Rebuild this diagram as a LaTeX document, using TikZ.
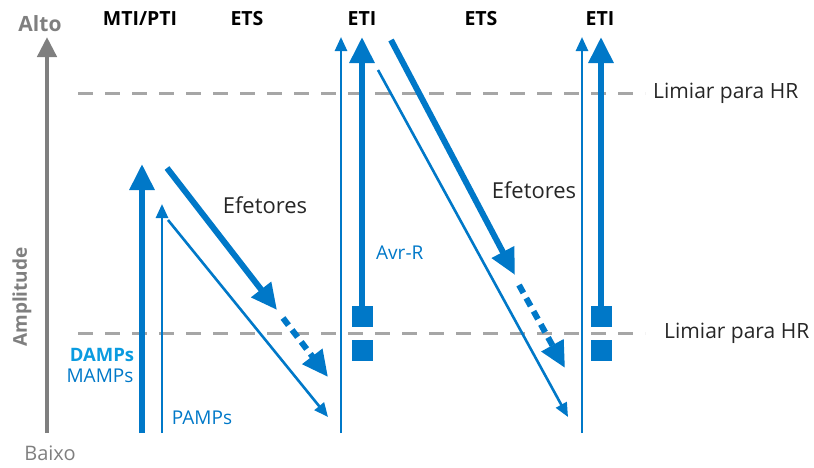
\documentclass[tikz,border=0pt]{standalone}
\usepackage{fontspec}
\setmainfont{Open Sans}
\usetikzlibrary{arrows.meta}
\definecolor{ablue}{HTML}{0078C8}
\definecolor{lblue}{HTML}{0A9BE0}
\definecolor{axgray}{HTML}{7F7F7F}
\definecolor{dgray}{HTML}{A6A6A6}
\definecolor{txt}{HTML}{262626}
\begin{document}
\begin{tikzpicture}[x=1pt,y=-1pt,
  thickarr/.style={ablue, line width=6pt, -{Triangle[length=26pt,width=24pt]}},
  thinarr/.style={ablue, line width=2.6pt, -{Triangle[length=14pt,width=12pt]}},
  dasharr/.style={ablue, line width=6pt, dash pattern=on 9pt off 6pt, -{Triangle[length=26pt,width=24pt]}},
  thr/.style={dgray, line width=3pt, dash pattern=on 15pt off 12pt},
  head/.style={font=\fontsize{19.5}{22}\selectfont\bfseries, text=black, inner sep=0pt},
  lbl/.style={font=\fontsize{21}{24}\selectfont, text=txt, inner sep=0pt},
  blbl/.style={font=\fontsize{19}{22}\selectfont, text=ablue, inner sep=0pt},
  sq/.style={fill=ablue, minimum width=21pt, minimum height=21pt, inner sep=0pt}
]
\useasboundingbox (0,0) rectangle (814,467);

% axis
\coordinate (axb) at (47,433);
\coordinate (axt) at (47,37);
\draw[axgray, line width=4.5pt, -{Triangle[length=20pt,width=19pt]}] (axb) -- (axt);
\node[font=\fontsize{21}{24}\selectfont\bfseries, text=axgray, inner sep=0pt] (alto) at (40,24) {Alto};
\node[font=\fontsize{20}{24}\selectfont, text=axgray, inner sep=0pt] (baixo) at (50,453) {Baixo};
\node[font=\fontsize{19}{22}\selectfont\bfseries, text=axgray, inner sep=0pt, rotate=90] (amp) at (22,297) {Amplitude};

% thresholds
\coordinate (t1a) at (78,93);  \coordinate (t1b) at (645,93);
\coordinate (t2a) at (78,333); \coordinate (t2b) at (645,333);
\draw[thr] (t1a) -- (t1b);
\draw[thr] (t2a) -- (t2b);
\node[lbl, anchor=west] (hr1) at (653,93) {Limiar para HR};
\node[lbl, anchor=west] (hr2) at (664,333) {Limiar para HR};

% headers
\node[head] (h1) at (140,19) {MTI/PTI};
\node[head] (h2) at (247,19) {ETS};
\node[head] (h3) at (362,19) {ETI};
\node[head] (h4) at (481,19) {ETS};
\node[head] (h5) at (600,19) {ETI};

% MTI/PTI
\coordinate (m1b) at (142,433); \coordinate (m1t) at (142,164);
\coordinate (m2b) at (162,433); \coordinate (m2t) at (162,204);
\draw[thickarr] (m1b) -- (m1t);
\draw[thinarr] (m2b) -- (m2t);
\node[blbl, text=lblue, font=\fontsize{18.5}{22}\selectfont\bfseries] (damps) at (102,355) {DAMPs};
\node[blbl] (mamps) at (100,376) {MAMPs};
\node[blbl] (pamps) at (202,418) {PAMPs};

% ETS 1
\coordinate (e1a) at (167,168); \coordinate (e1b) at (277,310);
\coordinate (e1c) at (283,318); \coordinate (e1d) at (328,377);
\draw[thickarr] (e1a) -- (e1b);
\draw[dasharr] (e1c) -- (e1d);
\coordinate (f1a) at (168,220); \coordinate (f1b) at (328,417);
\draw[thinarr] (f1a) -- (f1b);
\node[lbl, font=\fontsize{22}{25}\selectfont] (ef1) at (265,205) {Efetores};

% ETI 1
\coordinate (i1b) at (341,433); \coordinate (i1t) at (341,37);
\draw[thinarr] (i1b) -- (i1t);
\node[sq] (sq1a) at (362,316.5) {};
\node[sq] (sq1b) at (362,350.5) {};
\coordinate (i2t) at (362,37);
\draw[thickarr] (sq1a.north) -- (i2t);
\node[blbl, anchor=west] (avr) at (376,253) {Avr-R};

% ETS 2
\coordinate (e2a) at (391,40);  \coordinate (e2b) at (515,275);
\coordinate (e2c) at (519,285); \coordinate (e2d) at (565,368);
\draw[thickarr] (e2a) -- (e2b);
\draw[dasharr] (e2c) -- (e2d);
\coordinate (f2a) at (378,70); \coordinate (f2b) at (568,417);
\draw[thinarr] (f2a) -- (f2b);
\node[lbl, font=\fontsize{22}{25}\selectfont] (ef2) at (534,190) {Efetores};

% ETI 2
\coordinate (j1b) at (582,433); \coordinate (j1t) at (582,37);
\draw[thinarr] (j1b) -- (j1t);
\node[sq] (sq2a) at (601,316.5) {};
\node[sq] (sq2b) at (601,350.5) {};
\coordinate (j2t) at (601,37);
\draw[thickarr] (sq2a.north) -- (j2t);
\end{tikzpicture}
\end{document}
